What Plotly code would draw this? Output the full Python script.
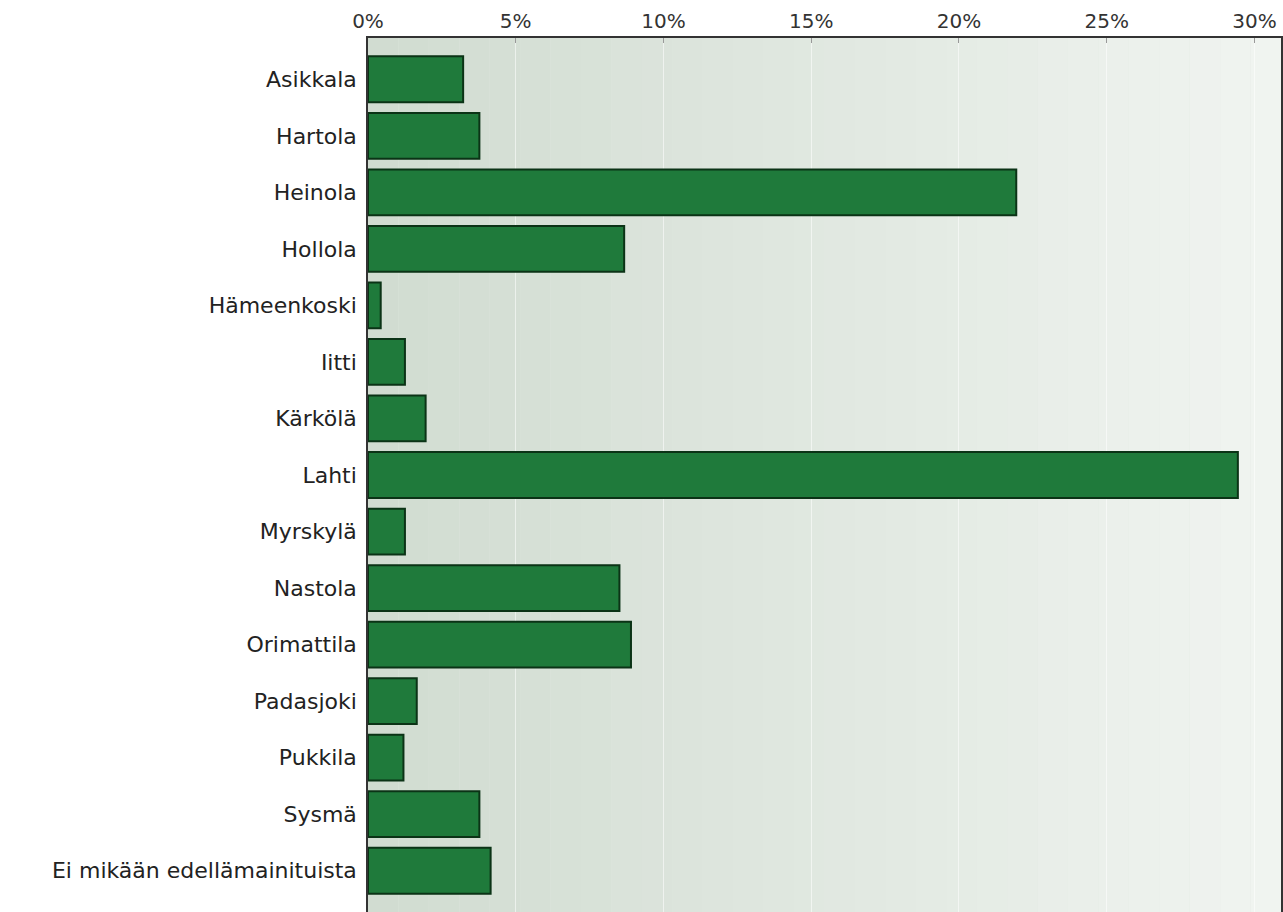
import plotly.graph_objects as go

categories = ["Asikkala", "Hartola", "Heinola", "Hollola", "Hämeenkoski", "Iitti",
              "Kärkölä", "Lahti", "Myrskylä", "Nastola", "Orimattila", "Padasjoki",
              "Pukkila", "Sysmä", "Ei mikään edellämainituista"]
values = [3.22, 3.77, 21.94, 8.67, 0.43, 1.25, 1.95, 29.44, 1.25, 8.51, 8.9, 1.65, 1.2, 3.77, 4.15]
tick_vals = [0, 5, 10, 15, 20, 25, 30]
tick_text = ["0%", "5%", "10%", "15%", "20%", "25%", "30%"]

fig = go.Figure()
fig.add_trace(go.Bar(
    y=categories, x=values, orientation="h",
    marker=dict(color="#1f7a3b", line=dict(color="#0b3316", width=2)),
    hoverinfo="x+y",
))

# background gradient strips
n = 30
c0 = (209, 220, 209)
c1 = (240, 244, 240)
shapes = []
for i in range(n):
    t = i / (n - 1)
    c = tuple(round(a + (b - a) * t) for a, b in zip(c0, c1))
    shapes.append(dict(type="rect", xref="paper", yref="paper",
                       x0=i / n, x1=(i + 1) / n, y0=0, y1=1,
                       fillcolor="rgb(%d,%d,%d)" % c, line=dict(width=0),
                       layer="below"))

fig.update_layout(
    width=1283, height=912, autosize=False,
    margin=dict(l=368, r=2, t=38, b=0),
    paper_bgcolor="white", plot_bgcolor="#e0e8e0",
    shapes=shapes, bargap=0.19, showlegend=False,
    font=dict(family="DejaVu Sans, Arial, sans-serif", color="#222"),
)
fig.update_xaxes(
    side="top", range=[0, 30.9], tickvals=tick_vals, ticktext=tick_text,
    showgrid=True, gridcolor="rgba(255,255,255,0.55)", gridwidth=1,
    showline=True, linecolor="#333", linewidth=1.5,
    ticks="inside", ticklen=5, tickcolor="#999",
    tickfont=dict(size=20, color="#333"), zeroline=False, fixedrange=True,
)
fig.update_yaxes(
    categoryorder="array", categoryarray=categories,
    range=[len(categories) - 1 + 0.73, -0.73],
    showline=True, linecolor="#333", linewidth=1.5, mirror=True,
    ticks="", tickfont=dict(size=22, color="#222"), ticklabelstandoff=5,
    showgrid=False, fixedrange=True,
)

fig.write_html("out.html", config={"displayModeBar": False},
               post_script="document.body.style.margin='0';")
